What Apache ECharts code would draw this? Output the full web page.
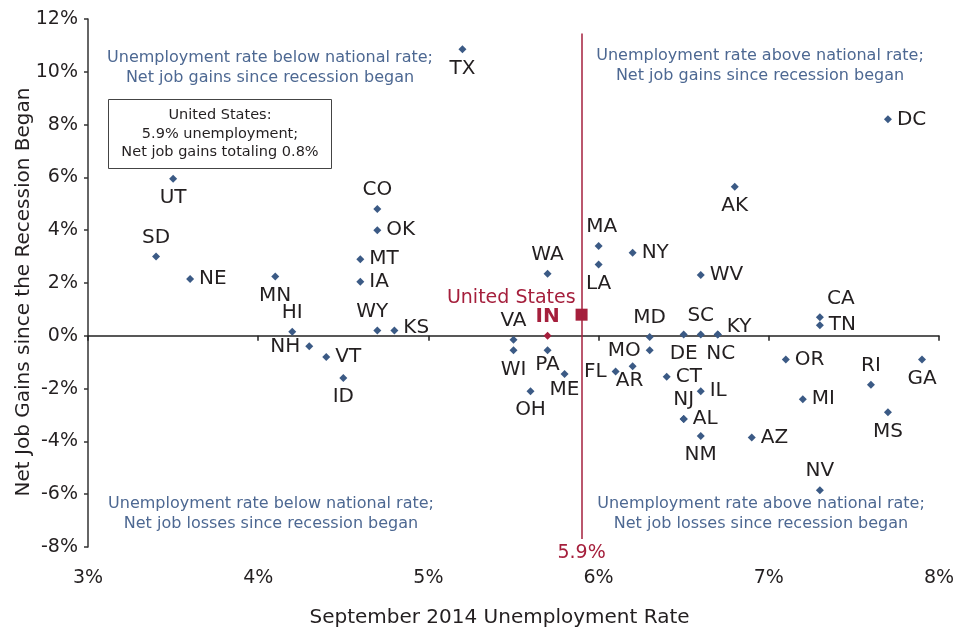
<!DOCTYPE html>
<html>
<head>
<meta charset="utf-8">
<script src="https://cdn.jsdelivr.net/npm/echarts@6/dist/echarts.min.js"></script>
<style>
  html, body { margin: 0; padding: 0; background: #fff; }
  #chart { width: 968px; height: 629px; }
</style>
</head>
<body>
<div id="chart"></div>
<script>
// September 2014 unemployment rate (%) vs net job gains since recession began (%)
const states = ['TX','UT','SD','NE','MN','CO','OK','MT','IA','HI','WY','KS','NH','VT','ID',
  'VA','WI','WA','IN','PA','OH','ME','DC','AK','MA','LA','NY','WV','CA','TN',
  'MD','DE','SC','KY','NC','MO','AR','FL','CT','IL','NJ','AL','NM','AZ','OR','MI',
  'RI','GA','MS','NV'];
const unemployment = [5.2,3.5,3.4,3.6,4.1,4.7,4.7,4.6,4.6,4.2,4.7,4.8,4.3,4.4,4.5,
  5.5,5.5,5.7,5.7,5.7,5.6,5.8,7.7,6.8,6.0,6.0,6.2,6.6,7.3,7.3,
  6.3,6.5,6.6,6.7,6.7,6.3,6.2,6.1,6.4,6.6,6.5,6.5,6.6,6.9,7.1,7.2,
  7.6,7.9,7.7,7.3];
const jobGains = [10.85,5.95,3.0,2.15,2.25,4.8,4.0,2.9,2.05,0.15,0.2,0.2,-0.4,-0.8,-1.6,
  -0.15,-0.55,2.35,0.0,-0.55,-2.1,-1.45,8.2,5.65,3.4,2.7,3.15,2.3,0.7,0.4,
  -0.05,0.05,0.05,0.05,0.05,-0.55,-1.15,-1.35,-1.55,-2.1,-3.15,-3.15,-3.8,-3.85,-0.9,-2.4,
  -1.85,-0.9,-2.9,-5.85];
const usRate = 5.9;
const usGains = 0.8;
const xTicks = [3, 8, 1];
const yTicks = [-8, 12, 2];

// where each state's label sits relative to its marker
const labelPlace = {
  TX: ['bottom'], UT: ['bottom'], SD: ['top'], NE: ['right'], MN: ['bottom'],
  CO: ['top'], OK: ['right'], MT: ['right'], IA: ['right'], HI: ['top'],
  WY: ['top', [-5, 0]], KS: ['right', [0, -3]], NH: ['left'], VT: ['right'], ID: ['bottom'],
  VA: ['top'], WI: ['bottom'], WA: ['top'], IN: ['top'], PA: ['bottom', [0, -5]],
  OH: ['bottom'], ME: ['bottom', [0, -3]], DC: ['right'], AK: ['bottom'], MA: ['top', [3, 0]],
  LA: ['bottom'], NY: ['right'], WV: ['right'], CA: ['top', [21, 0]], TN: ['right'],
  MD: ['top'], DE: ['bottom'], SC: ['top'], KY: ['right', [0, -8]], NC: ['bottom', [3, 0]],
  MO: ['left'], AR: ['bottom', [-3, -4]], FL: ['left'], CT: ['right'], IL: ['right'],
  NJ: ['top'], AL: ['right'], NM: ['bottom'], AZ: ['right'], OR: ['right'], MI: ['right'],
  RI: ['top'], GA: ['bottom'], MS: ['bottom'], NV: ['top']
};

const RED = '#a51f3c';
const BLUE = '#3b5a85';
const INK = '#231f20';
const NOTE = '#4d6892';
const FONT = 'DejaVu Sans';

const stateData = states.map((s, i) => {
  const p = labelPlace[s] || ['right'];
  const item = {
    name: s,
    value: [unemployment[i], jobGains[i]],
    label: { position: p[0], offset: p[1] || [0, 0] }
  };
  if (s === 'IN') {
    item.itemStyle = { color: RED, opacity: 1 };
    item.label.color = RED;
    item.label.fontWeight = 'bold';
  }
  return item;
});

const chart = echarts.init(document.getElementById('chart'));

const option = {
  animation: false,
  grid: { left: 88, right: 29, top: 19, bottom: 82, outerBoundsMode: 'none' },
  xAxis: [
    {
      type: 'value', min: xTicks[0], max: xTicks[1], interval: xTicks[2],
      position: 'bottom',
      axisLine: { show: true, onZero: true, lineStyle: { color: '#222', width: 1.5 } },
      axisTick: { show: true, inside: false, length: 5, lineStyle: { color: '#222', width: 1.5 } },
      axisLabel: { show: false },
      splitLine: { show: false }
    },
    {
      type: 'value', min: xTicks[0], max: xTicks[1], interval: xTicks[2],
      position: 'bottom',
      axisLine: { show: false, onZero: false },
      axisTick: { show: false },
      axisLabel: { formatter: '{value}%', margin: 22, fontSize: 19, color: INK, fontFamily: FONT },
      splitLine: { show: false },
      name: 'September 2014 Unemployment Rate',
      nameLocation: 'middle',
      nameGap: 61,
      nameMoveOverlap: false,
      nameTextStyle: { fontSize: 20, color: INK, fontFamily: FONT, padding: [0, 28, 0, 0] }
    }
  ],
  yAxis: {
    type: 'value', min: yTicks[0], max: yTicks[1], interval: yTicks[2],
    axisLine: { show: true, onZero: false, lineStyle: { color: '#333', width: 1.5 } },
    axisTick: { show: true, length: 4, lineStyle: { color: '#333', width: 1.5 } },
    axisLabel: { formatter: '{value}%', margin: 10, fontSize: 19, color: INK, fontFamily: FONT },
    splitLine: { show: false },
    name: 'Net Job Gains since the Recession Began',
    nameLocation: 'middle',
    nameGap: 54,
    nameMoveOverlap: false,
    nameTextStyle: { fontSize: 20, color: INK, fontFamily: FONT, padding: [0, 18, 0, 0] }
  },
  series: [
    {
      name: 'States',
      type: 'scatter',
      xAxisIndex: 0,
      symbol: 'diamond',
      symbolSize: 8,
      itemStyle: { color: BLUE, opacity: 1 },
      label: {
        show: true,
        formatter: '{b}',
        fontSize: 20,
        color: INK,
        fontFamily: FONT,
        distance: 5
      },
      data: stateData,
      z: 3
    },
    {
      name: 'United States',
      type: 'scatter',
      xAxisIndex: 0,
      symbol: 'rect',
      symbolSize: 12,
      itemStyle: { color: RED, opacity: 1 },
      label: {
        show: true,
        formatter: 'United States',
        position: 'left',
        distance: 0,
        offset: [0, -17],
        fontSize: 19,
        color: RED,
        fontFamily: FONT
      },
      data: [[usRate, usGains]],
      markLine: {
        silent: true,
        symbol: 'none',
        lineStyle: { color: RED, width: 1.5, type: 'solid', opacity: 1 },
        label: {
          show: true, position: 'end', formatter: usRate + '%',
          fontSize: 19, color: RED, fontFamily: FONT, distance: 4
        },
        data: [[{ coord: [usRate, 11.45] }, { coord: [usRate, -7.7] }]]
      },
      z: 4
    }
  ],
  graphic: [
    {
      type: 'text', x: 270, y: 48,
      style: {
        text: 'Unemployment rate below national rate;\nNet job gains since recession began',
        font: '16px "DejaVu Sans"', fill: NOTE, align: 'center', verticalAlign: 'top', lineHeight: 20
      }
    },
    {
      type: 'text', x: 760, y: 46,
      style: {
        text: 'Unemployment rate above national rate;\nNet job gains since recession began',
        font: '16px "DejaVu Sans"', fill: NOTE, align: 'center', verticalAlign: 'top', lineHeight: 20
      }
    },
    {
      type: 'text', x: 271, y: 494,
      style: {
        text: 'Unemployment rate below national rate;\nNet job losses since recession began',
        font: '16px "DejaVu Sans"', fill: NOTE, align: 'center', verticalAlign: 'top', lineHeight: 20
      }
    },
    {
      type: 'text', x: 761, y: 494,
      style: {
        text: 'Unemployment rate above national rate;\nNet job losses since recession began',
        font: '16px "DejaVu Sans"', fill: NOTE, align: 'center', verticalAlign: 'top', lineHeight: 20
      }
    },
    {
      type: 'rect',
      shape: { x: 108.5, y: 99.5, width: 223, height: 69 },
      style: { fill: '#fff', stroke: '#444', lineWidth: 1 }
    },
    {
      type: 'text', x: 220, y: 106,
      style: {
        text: 'United States:\n5.9% unemployment;\nNet job gains totaling 0.8%',
        font: '14.5px "DejaVu Sans"', fill: INK, align: 'center', verticalAlign: 'top', lineHeight: 18.5
      }
    }
  ]
};

chart.setOption(option);
</script>
</body>
</html>
